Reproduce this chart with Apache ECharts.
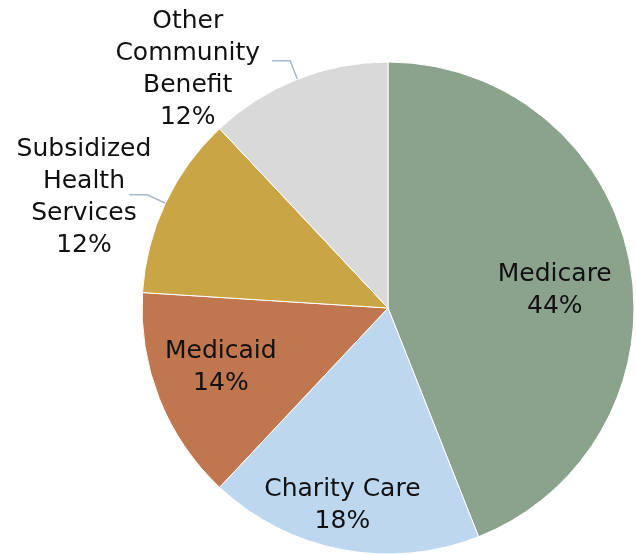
<!DOCTYPE html>
<html>
<head>
<meta charset="utf-8">
<script src="https://cdn.jsdelivr.net/npm/echarts@6/dist/echarts.min.js"></script>
<style>html,body{margin:0;padding:0;background:#fff}#c{width:636px;height:555px}</style>
</head>
<body>
<div id="c"></div>
<script>
const categories = ['Medicare', 'Charity Care', 'Medicaid', 'Subsidized Health Services', 'Other Community Benefit'];
const labelLines = [['Medicare'], ['Charity Care'], ['Medicaid'], ['Subsidized', 'Health', 'Services'], ['Other', 'Community', 'Benefit']];
const values = [44, 18, 14, 12, 12];
const colors = ['#8BA38D', '#BDD7EE', '#C0764F', '#C9A545', '#D9D9D9'];
const isOutside = [false, false, false, true, true];
const labelShift = [[43, 6], [-22, 74], [-50, 13], [26, 3], [-8, 9]];

const chart = echarts.init(document.getElementById('c'));
const total = values.reduce((a, b) => a + b, 0);
const data = categories.map((name, i) => ({
  name: name,
  value: values[i],
  itemStyle: { color: colors[i] },
  label: {
    position: isOutside[i] ? 'outside' : 'inside',
    formatter: () => labelLines[i].concat([Math.round(values[i] / total * 100) + '%']).map(s => '{c|' + s + '}').join('\n')
  },
  labelLine: { show: isOutside[i] }
}));
chart.setOption({
  animation: false,
  series: [{
    type: 'pie',
    center: [388, 308],
    radius: 246,
    startAngle: 90,
    clockwise: true,
    avoidLabelOverlap: false,
    data: data,
    itemStyle: { borderColor: '#ffffff', borderWidth: 1 },
    label: {
      color: '#111',
      fontFamily: 'DejaVu Sans',
      fontSize: 25,
      lineHeight: 32,
      distanceToLabelLine: 4,
      rich: { c: { align: 'center', color: '#111', fontFamily: 'DejaVu Sans', fontSize: 25, lineHeight: 32 } }
    },
    labelLine: { length: 20, length2: 18, lineStyle: { color: '#A8B8CC', width: 1.5 } },
    labelLayout: function (p) {
      const s = labelShift[p.dataIndex];
      return { dx: s[0], dy: s[1] };
    }
  }]
});
</script>
</body>
</html>
